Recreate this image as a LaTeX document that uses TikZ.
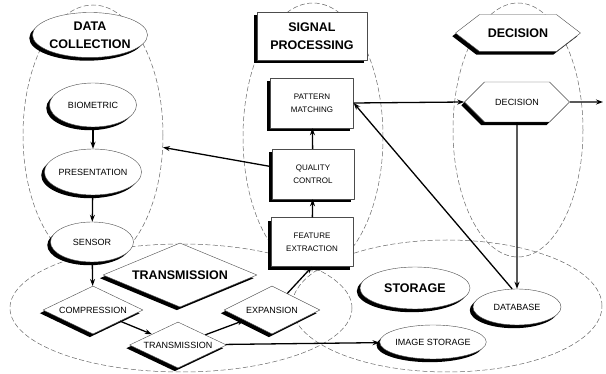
\documentclass[tikz,border=0pt]{standalone}
\usepackage{fontspec}
\setmainfont{Liberation Sans}
\usepackage{tikz}
\usetikzlibrary{positioning,calc,shapes.geometric,shapes.symbols,shadows,arrows.meta}

\newcommand{\headfont}{\fontsize{12.5}{18}\selectfont\bfseries}
\newcommand{\itemfont}{\fontsize{9}{11}\selectfont}
\newcommand{\boxfont}{\fontsize{8}{13}\selectfont}

\begin{document}
\begin{tikzpicture}[x=1pt, y=-1pt, line join=round,
  zone/.style={ellipse, draw=black!60, line width=0.5pt, dash pattern=on 5pt off 2.5pt, inner sep=0pt},
  shadowed/.style={drop shadow={shadow xshift=-3.2pt, shadow yshift=-3.2pt, fill=black, opacity=1}},
  block/.style={draw=black!70, line width=0.4pt, fill=white, shadowed, inner sep=0pt, align=center, font=\itemfont},
  oval/.style={block, ellipse},
  box/.style={block, rectangle, font=\boxfont},
  rhombus/.style={block, diamond, aspect=2},
  hexa/.style={block, signal, signal to=east and west, signal pointer angle=90},
  flow/.style={-{Stealth[length=7pt,width=5pt]}, line width=1.3pt}
]
  \useasboundingbox (0,0) rectangle (606,374);

  % the five areas
  \node[zone, minimum width=140pt, minimum height=260pt] (dczone) at (93,135) {};
  \node[zone, minimum width=140pt, minimum height=268pt] (spzone) at (313,137) {};
  \node[zone, minimum width=130pt, minimum height=254pt] (deczone) at (518,130) {};
  \node[zone, minimum width=342pt, minimum height=128pt] (txzone) at (181,308) {};
  \node[zone, minimum width=310pt, minimum height=132pt] (stzone) at (447,306) {};

  % area titles
  \node[oval, font=\headfont, minimum width=115pt, minimum height=45pt] (dchead) at (90,35) {DATA\\COLLECTION};
  \node[box, font=\headfont, minimum width=110pt, minimum height=48pt] (sphead) at (312,36) {SIGNAL\\PROCESSING};
  \node[hexa, font=\headfont, signal pointer angle=75, minimum width=125pt, minimum height=37pt] (dechead) at (518,33) {DECISION};
  \node[rhombus, font=\headfont, minimum width=154pt, minimum height=64pt] (txhead) at (180,275) {TRANSMISSION};
  \node[oval, font=\headfont, minimum width=110pt, minimum height=42pt] (sthead) at (415,288) {STORAGE};

  % steps
  \node[oval, minimum width=87pt, minimum height=44pt] (bio) at (93,105) {BIOMETRIC};
  \node[oval, minimum width=85pt, minimum height=46pt] (pres) at (93,172) {PRESENTATION};
  \node[oval, minimum width=83pt, minimum height=40pt] (sens) at (92,242) {SENSOR};
  \node[rhombus, minimum width=100pt, minimum height=48pt] (comp) at (93,310) {COMPRESSION};
  \node[rhombus, minimum width=97pt, minimum height=46pt] (tx) at (178,345) {TRANSMISSION};
  \node[rhombus, minimum width=96pt, minimum height=48pt] (exp) at (272,310) {EXPANSION};
  \node[box, minimum width=82pt, minimum height=49pt] (fe) at (312,242) {FEATURE\\EXTRACTION};
  \node[box, minimum width=82pt, minimum height=50pt] (qc) at (313,174) {QUALITY\\CONTROL};
  \node[box, minimum width=83pt, minimum height=50pt] (pm) at (312,103) {PATTERN\\MATCHING};
  \node[hexa, minimum width=105pt, minimum height=40pt] (dec) at (517,102) {DECISION};
  \node[oval, minimum width=88pt, minimum height=36pt] (db) at (517,307) {DATABASE};
  \node[oval, minimum width=97pt, minimum height=34pt] (img) at (433,342) {IMAGE STORAGE};

  \coordinate (exit) at (603,102);

  % connectors
  \draw[flow] (bio) -- (pres);
  \draw[flow] (pres) -- (sens);
  \draw[flow] (sens) -- (comp);
  \draw[flow] (comp) -- (tx);
  \draw[flow] (tx) -- (exp);
  \draw[flow] (tx) -- (img);
  \draw[flow] (exp) -- (fe.south);
  \draw[flow] (fe) -- (qc);
  \draw[flow] (qc) -- (pm);
  \draw[flow] (qc) -- (dczone);
  \draw[flow] (pm.east) -- (dec.west);
  \draw[flow] (dec) -- (exit);
  \draw[flow] (dec) -- (db);
  \draw[flow] (db.105) -- (pm.east);

\end{tikzpicture}
\end{document}
